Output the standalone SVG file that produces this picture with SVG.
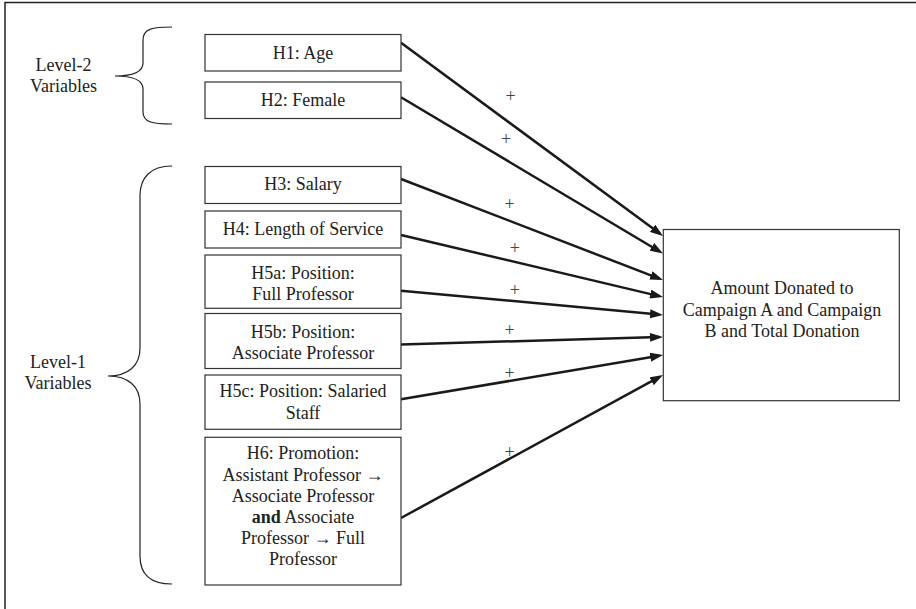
<svg xmlns="http://www.w3.org/2000/svg" width="916" height="609" viewBox="0 0 916 609">
<style>
.t{font-family:'Liberation Serif','Times New Roman',serif;font-size:18px;fill:#222;text-anchor:middle}
.p{font-family:'Liberation Serif','Times New Roman',serif;font-size:18px;fill:#444;text-anchor:middle}
.box{fill:#fff;stroke:#333;stroke-width:1.2}
.br{fill:none;stroke:#222;stroke-width:1.2}
.ar{fill:none;stroke:#1a1a1a;stroke-width:2.5}
</style>
<defs>
<marker id="ah" markerUnits="userSpaceOnUse" markerWidth="13" markerHeight="9" refX="9" refY="4.5" orient="auto" viewBox="0 0 13 9">
<path d="M0,0 L13,4.5 L0,9 z" fill="#1a1a1a"/>
</marker>
</defs>
<rect width="916" height="609" fill="#fff"/>
<path d="M5,609 L5,2.5 L916,2.5" fill="none" stroke="#222" stroke-width="1.5"/>

<g id="level2">
<path class="br" d="M172,27 C152,27 143,29 143,40 L143,63 C143,72 132,76 115,76 C132,76 143,80 143,89 L143,112 C143,122 152,124 172,124"/>
<text class="t" x="63.5" y="71">Level-2</text>
<text class="t" x="63.5" y="92.3">Variables</text>
</g>
<g id="level1">
<path class="br" d="M172,166 C150,166 140,178 140,196 L140,348 C140,366 128,376 108,376 C128,376 140,386 140,404 L140,556 C140,574 150,584 172,584"/>
<text class="t" x="58" y="368.3">Level-1</text>
<text class="t" x="58" y="389.3">Variables</text>
</g>

<g id="connectors">
<line class="ar" x1="401" y1="42.7" x2="659.8" y2="233.6" marker-end="url(#ah)"/>
<line class="ar" x1="401" y1="97.3" x2="659.6" y2="251.5" marker-end="url(#ah)"/>
<line class="ar" x1="401" y1="179" x2="659.3" y2="278.6" marker-end="url(#ah)"/>
<line class="ar" x1="401" y1="235" x2="659.1" y2="296.1" marker-end="url(#ah)"/>
<line class="ar" x1="401" y1="290.7" x2="659" y2="314.6" marker-end="url(#ah)"/>
<line class="ar" x1="401" y1="344.5" x2="659" y2="337.1" marker-end="url(#ah)"/>
<line class="ar" x1="401" y1="399.3" x2="659.1" y2="355.7" marker-end="url(#ah)"/>
<line class="ar" x1="401" y1="518" x2="659.5" y2="376.9" marker-end="url(#ah)"/>
<text class="p" x="510.7" y="102">+</text>
<text class="p" x="506" y="144.7">+</text>
<text class="p" x="509.7" y="210.2">+</text>
<text class="p" x="514.8" y="253.7">+</text>
<text class="p" x="514.8" y="296.2">+</text>
<text class="p" x="509.7" y="335.7">+</text>
<text class="p" x="509.7" y="379.2">+</text>
<text class="p" x="509.7" y="457.7">+</text>
</g>

<g id="h1"><rect class="box" x="205" y="34.5" width="196" height="36.5"/><text class="t" x="303" y="58.7">H1: Age</text></g>
<g id="h2"><rect class="box" x="205" y="82" width="196" height="36.5"/><text class="t" x="303" y="105.5">H2: Female</text></g>
<g id="h3"><rect class="box" x="205" y="166.5" width="196" height="37"/><text class="t" x="303" y="190">H3: Salary</text></g>
<g id="h4"><rect class="box" x="205" y="211" width="196" height="37"/><text class="t" x="303" y="235.3">H4: Length of Service</text></g>
<g id="h5a"><rect class="box" x="205" y="255" width="196" height="53.3"/><text class="t" x="303" y="279">H5a: Position:</text><text class="t" x="303" y="299.5">Full Professor</text></g>
<g id="h5b"><rect class="box" x="205" y="313.5" width="196" height="55"/><text class="t" x="303" y="338.3">H5b: Position:</text><text class="t" x="303" y="358.5">Associate Professor</text></g>
<g id="h5c"><rect class="box" x="205" y="375" width="196" height="54.3"/><text class="t" x="303" y="397">H5c: Position: Salaried</text><text class="t" x="303" y="419">Staff</text></g>
<g id="h6"><rect class="box" x="205" y="437.3" width="196" height="147.7"/>
<text class="t" x="303" y="459.3">H6: Promotion:</text>
<text class="t" x="303" y="480.5">Assistant Professor →</text>
<text class="t" x="303" y="501.7">Associate Professor</text>
<text class="t" x="303" y="523"><tspan font-weight="bold">and</tspan> Associate</text>
<text class="t" x="303" y="544">Professor → Full</text>
<text class="t" x="303" y="565">Professor</text>
</g>
<g id="outcome"><rect class="box" x="663.3" y="229.5" width="236" height="171.2"/>
<text class="t" x="782" y="294.3">Amount Donated to</text>
<text class="t" x="782" y="315.6">Campaign A and Campaign</text>
<text class="t" x="782" y="336.8">B and Total Donation</text>
</g>
</svg>
